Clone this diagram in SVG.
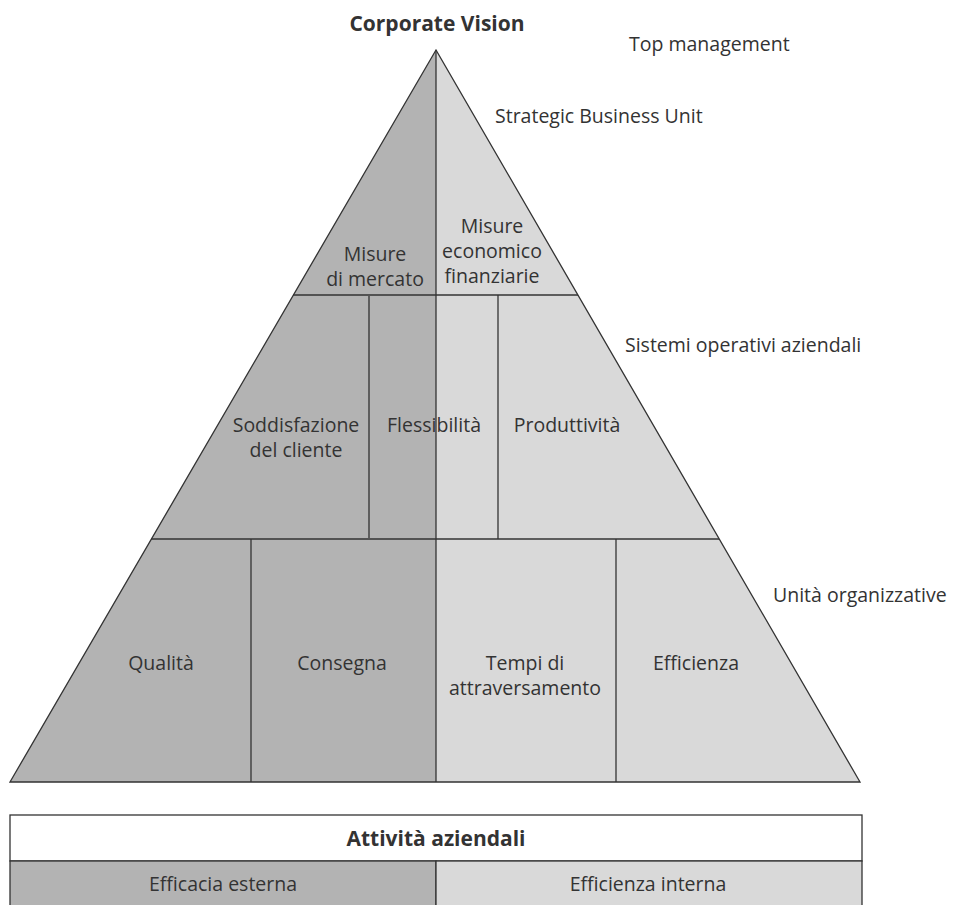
<svg xmlns="http://www.w3.org/2000/svg" width="955" height="905" viewBox="0 0 955 905">
  <style>
    text { font-family: "Open Sans", "Noto Sans", "DejaVu Sans", sans-serif; font-size: 19.5px; fill: #333; }
    .c { text-anchor: middle; }
    .b { font-weight: bold; font-size: 21px; }
    .dark { fill: #b3b3b3; }
    .light { fill: #d9d9d9; }
    .ln { stroke: #333; stroke-width: 1.3; fill: none; }
  </style>

  <!-- pyramid halves -->
  <g id="pyramid">
    <polygon class="dark" points="436,50 10,782 436,782"/>
    <polygon class="light" points="436,50 436,782 860,782"/>
  </g>

  <!-- level labels -->
  <g id="levels">
    <text class="c b" x="437" y="31">Corporate Vision</text>
    <text x="629" y="51">Top management</text>
    <text x="495" y="123">Strategic Business Unit</text>
    <text x="625" y="352">Sistemi operativi aziendali</text>
    <text x="773" y="602">Unità organizzative</text>
  </g>

  <!-- top tier -->
  <g id="misure-mercato">
    <text class="c" x="375" y="261">Misure</text>
    <text class="c" x="375" y="286">di mercato</text>
  </g>
  <g id="misure-economico">
    <text class="c" x="492" y="233">Misure</text>
    <text class="c" x="492" y="258">economico</text>
    <text class="c" x="492" y="283">finanziarie</text>
  </g>

  <!-- middle tier -->
  <g id="soddisfazione">
    <text class="c" x="296" y="432">Soddisfazione</text>
    <text class="c" x="296" y="457">del cliente</text>
  </g>
  <g id="flessibilita">
    <text class="c" x="434" y="432">Flessibilità</text>
  </g>
  <g id="produttivita">
    <text class="c" x="567" y="432">Produttività</text>
  </g>

  <!-- bottom tier -->
  <g id="qualita">
    <text class="c" x="161" y="670">Qualità</text>
  </g>
  <g id="consegna">
    <text class="c" x="342" y="670">Consegna</text>
  </g>
  <g id="tempi">
    <text class="c" x="525" y="670">Tempi di</text>
    <text class="c" x="525" y="695">attraversamento</text>
  </g>
  <g id="efficienza">
    <text class="c" x="696" y="670">Efficienza</text>
  </g>

  <!-- dividing lines -->
  <g id="connectors" class="ln">
    <polygon class="ln" points="436,50 10,782 860,782"/>
    <line x1="436" y1="50" x2="436" y2="782"/>
    <line x1="293" y1="295" x2="578" y2="295"/>
    <line x1="151" y1="539" x2="719" y2="539"/>
    <line x1="369" y1="295" x2="369" y2="539" style="stroke:#555;stroke-width:1.8"/>
    <line x1="498" y1="295" x2="498" y2="539"/>
    <line x1="251" y1="539" x2="251" y2="782"/>
    <line x1="616" y1="539" x2="616" y2="782"/>
  </g>

  <!-- activities box -->
  <g id="attivita">
    <rect x="10" y="815" width="852" height="46" fill="#fff" stroke="#333" stroke-width="1.3"/>
    <text class="c b" x="436" y="846">Attività aziendali</text>
  </g>
  <g id="efficacia-esterna">
    <rect class="dark" x="10" y="861" width="426" height="50" stroke="#333" stroke-width="1.3"/>
    <text class="c" x="223" y="891">Efficacia esterna</text>
  </g>
  <g id="efficienza-interna">
    <rect class="light" x="436" y="861" width="426" height="50" stroke="#333" stroke-width="1.3"/>
    <text class="c" x="648" y="891">Efficienza interna</text>
  </g>
</svg>
